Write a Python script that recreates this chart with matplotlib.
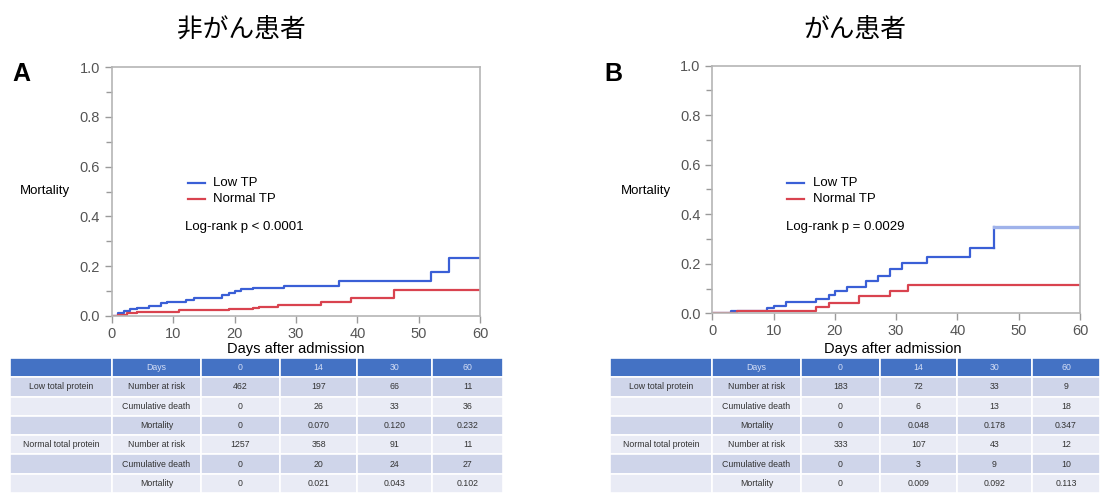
import matplotlib
matplotlib.use("Agg")
import matplotlib.pyplot as plt
from matplotlib.ticker import MultipleLocator

plt.rcParams['font.family'] = ['Liberation Sans', 'Noto Sans CJK JP', 'DejaVu Sans']

# panel A: non-cancer patients
a_low_t = [0, 1, 2, 3, 4, 6, 8, 9, 12, 13.3, 18, 19, 20, 21, 23, 28, 37, 52, 55, 60]
a_low_v = [0, 0.01, 0.02, 0.025, 0.032, 0.04, 0.05, 0.055, 0.063, 0.07, 0.083, 0.093,
           0.1, 0.107, 0.113, 0.12, 0.141, 0.177, 0.232, 0.232]
a_norm_t = [0, 1, 2.4, 4, 11, 19, 23, 24, 27, 34, 39, 46, 60]
a_norm_v = [0, 0.004, 0.01, 0.016, 0.021, 0.026, 0.032, 0.037, 0.043, 0.055, 0.072, 0.102, 0.102]

# panel B: cancer patients
b_low_t = [0, 3, 9, 10, 12, 17, 19, 20, 22, 25, 27, 29, 31, 35, 42, 46, 60]
b_low_v = [0, 0.01, 0.02, 0.03, 0.046, 0.058, 0.074, 0.092, 0.108, 0.13, 0.152, 0.178,
           0.202, 0.229, 0.265, 0.347, 0.347]
b_norm_t = [0, 2, 4, 17, 19, 24, 29, 32, 60]
b_norm_v = [0, 0.003, 0.009, 0.027, 0.043, 0.07, 0.092, 0.113, 0.113]

titles = ['非がん患者', 'がん患者']
letters = ['A', 'B']
pvals = ['Log-rank p < 0.0001', 'Log-rank p = 0.0029']

col_labels = ['', 'Days', '0', '14', '30', '60']
row_groups = ['Low total protein', '', '', 'Normal total protein', '', '']
row_names = ['Number at risk', 'Cumulative death', 'Mortality'] * 2
a_table = [['462', '197', '66', '11'],
           ['0', '26', '33', '36'],
           ['0', '0.070', '0.120', '0.232'],
           ['1257', '358', '91', '11'],
           ['0', '20', '24', '27'],
           ['0', '0.021', '0.043', '0.102']]
b_table = [['183', '72', '33', '9'],
           ['0', '6', '13', '18'],
           ['0', '0.048', '0.178', '0.347'],
           ['333', '107', '43', '12'],
           ['0', '3', '9', '10'],
           ['0', '0.009', '0.092', '0.113']]

BLUE = '#3a5fd6'
RED = '#d9434f'
W, H = 1100, 493

fig = plt.figure(figsize=(11, 4.93), dpi=100)


def px(x0, y0, x1, y1):
    # pixel box (top-left origin) -> figure fraction rect
    return [x0 / W, 1 - y1 / H, (x1 - x0) / W, (y1 - y0) / H]


panels = [
    dict(ax=px(112, 67.3, 480, 315.7), low=(a_low_t, a_low_v), norm=(a_norm_t, a_norm_v),
         title_x=241, letter_x=12, mort_x=45, xlab_x=296, leg=(188, 213), pv_x=185,
         tab=px(10, 358, 503, 493), data=a_table, widths=[102, 89, 79, 77, 75, 71], fade=None),
    dict(ax=px(712.3, 65.7, 1080, 313.3), low=(b_low_t, b_low_v), norm=(b_norm_t, b_norm_v),
         title_x=855, letter_x=604, mort_x=646, xlab_x=893, leg=(787, 813), pv_x=786,
         tab=px(610, 358, 1100, 493), data=b_table, widths=[102, 89, 79, 77, 75, 68], fade=46),
]

for i, p in enumerate(panels):
    ax = fig.add_axes(p['ax'])
    lt, lv = p['low']
    nt, nv = p['norm']
    if p['fade'] is None:
        ax.step(lt, lv, where='post', color=BLUE, lw=1.6, label='Low TP')
    else:
        k = lt.index(p['fade'])
        ax.step(lt[:k + 1], lv[:k] + [lv[k - 1]], where='post', color=BLUE, lw=1.6, label='Low TP')
        ax.plot([lt[k], lt[k]], [lv[k - 1], lv[k]], color=BLUE, lw=1.6)
        ax.step(lt[k:], lv[k:], where='post', color='#9fb2ea', lw=2.4)
    ax.step(nt, nv, where='post', color=RED, lw=1.6, label='Normal TP')

    ax.set_xlim(0, 60)
    ax.set_ylim(0, 1.0)
    ax.xaxis.set_major_locator(MultipleLocator(10))
    ax.yaxis.set_major_locator(MultipleLocator(0.2))
    ax.yaxis.set_minor_locator(MultipleLocator(0.1))
    ax.yaxis.set_major_formatter(plt.FormatStrFormatter('%.1f'))
    ax.tick_params(axis='both', which='both', colors='#9a9a9a', labelcolor='#555555',
                   labelsize=10.5, length=5, width=1, direction='out')
    ax.tick_params(axis='y', which='minor', length=4)
    ax.tick_params(axis='x', pad=3)
    for s in ax.spines.values():
        s.set_color('#b5b5b5')
        s.set_linewidth(1.2)

    # texts placed in pixel coordinates of the reference
    fig.text(p['title_x'] / W, 1 - 30 / H, titles[i], ha='center', va='center',
             fontsize=18.5, family=['Noto Sans CJK JP', 'DejaVu Sans'])
    fig.text(p['letter_x'] / W, 1 - 74 / H, letters[i], ha='left', va='center',
             fontsize=18, fontweight='bold', family=['Liberation Sans', 'DejaVu Sans'])
    fig.text(p['mort_x'] / W, 1 - 191 / H, 'Mortality', ha='center', va='center', fontsize=9.5)
    fig.text(p['xlab_x'] / W, 1 - 349 / H, 'Days after admission', ha='center', va='center',
             fontsize=10.5)
    fig.text(p['pv_x'] / W, 1 - 227 / H, pvals[i], ha='left', va='center', fontsize=9.5)

    lx, tx = p['leg']
    for j, (name, col) in enumerate([('Low TP', BLUE), ('Normal TP', RED)]):
        yy = 1 - (183 + 16 * j) / H
        fig.lines.append(plt.Line2D([lx / W, (lx + 17) / W], [yy, yy], color=col, lw=1.6,
                                    transform=fig.transFigure))
        fig.text(tx / W, yy, name, ha='left', va='center', fontsize=9.5)

    # number at risk table
    tab_ax = fig.add_axes(p['tab'])
    tab_ax.axis('off')
    cells = [[row_groups[r], row_names[r]] + p['data'][r] for r in range(6)]
    tw = sum(p['widths'])
    tbl = tab_ax.table(cellText=cells, colLabels=col_labels, cellLoc='center',
                       colWidths=[w / tw for w in p['widths']], bbox=[0, 0, 1, 1])
    tbl.auto_set_font_size(False)
    tbl.set_fontsize(6.3)
    for (r, c), cell in tbl.get_celld().items():
        cell.set_edgecolor('white')
        cell.set_linewidth(1.2)
        cell.get_text().set_fontsize(6.3)
        if r == 0:
            cell.set_facecolor('#4472c4')
            cell.get_text().set_color('#d5def5')
        else:
            cell.set_facecolor('#cfd5ea' if r % 2 == 1 else '#e9ebf5')
            cell.get_text().set_color('#333333')

fig.savefig('out.png', dpi=100)
